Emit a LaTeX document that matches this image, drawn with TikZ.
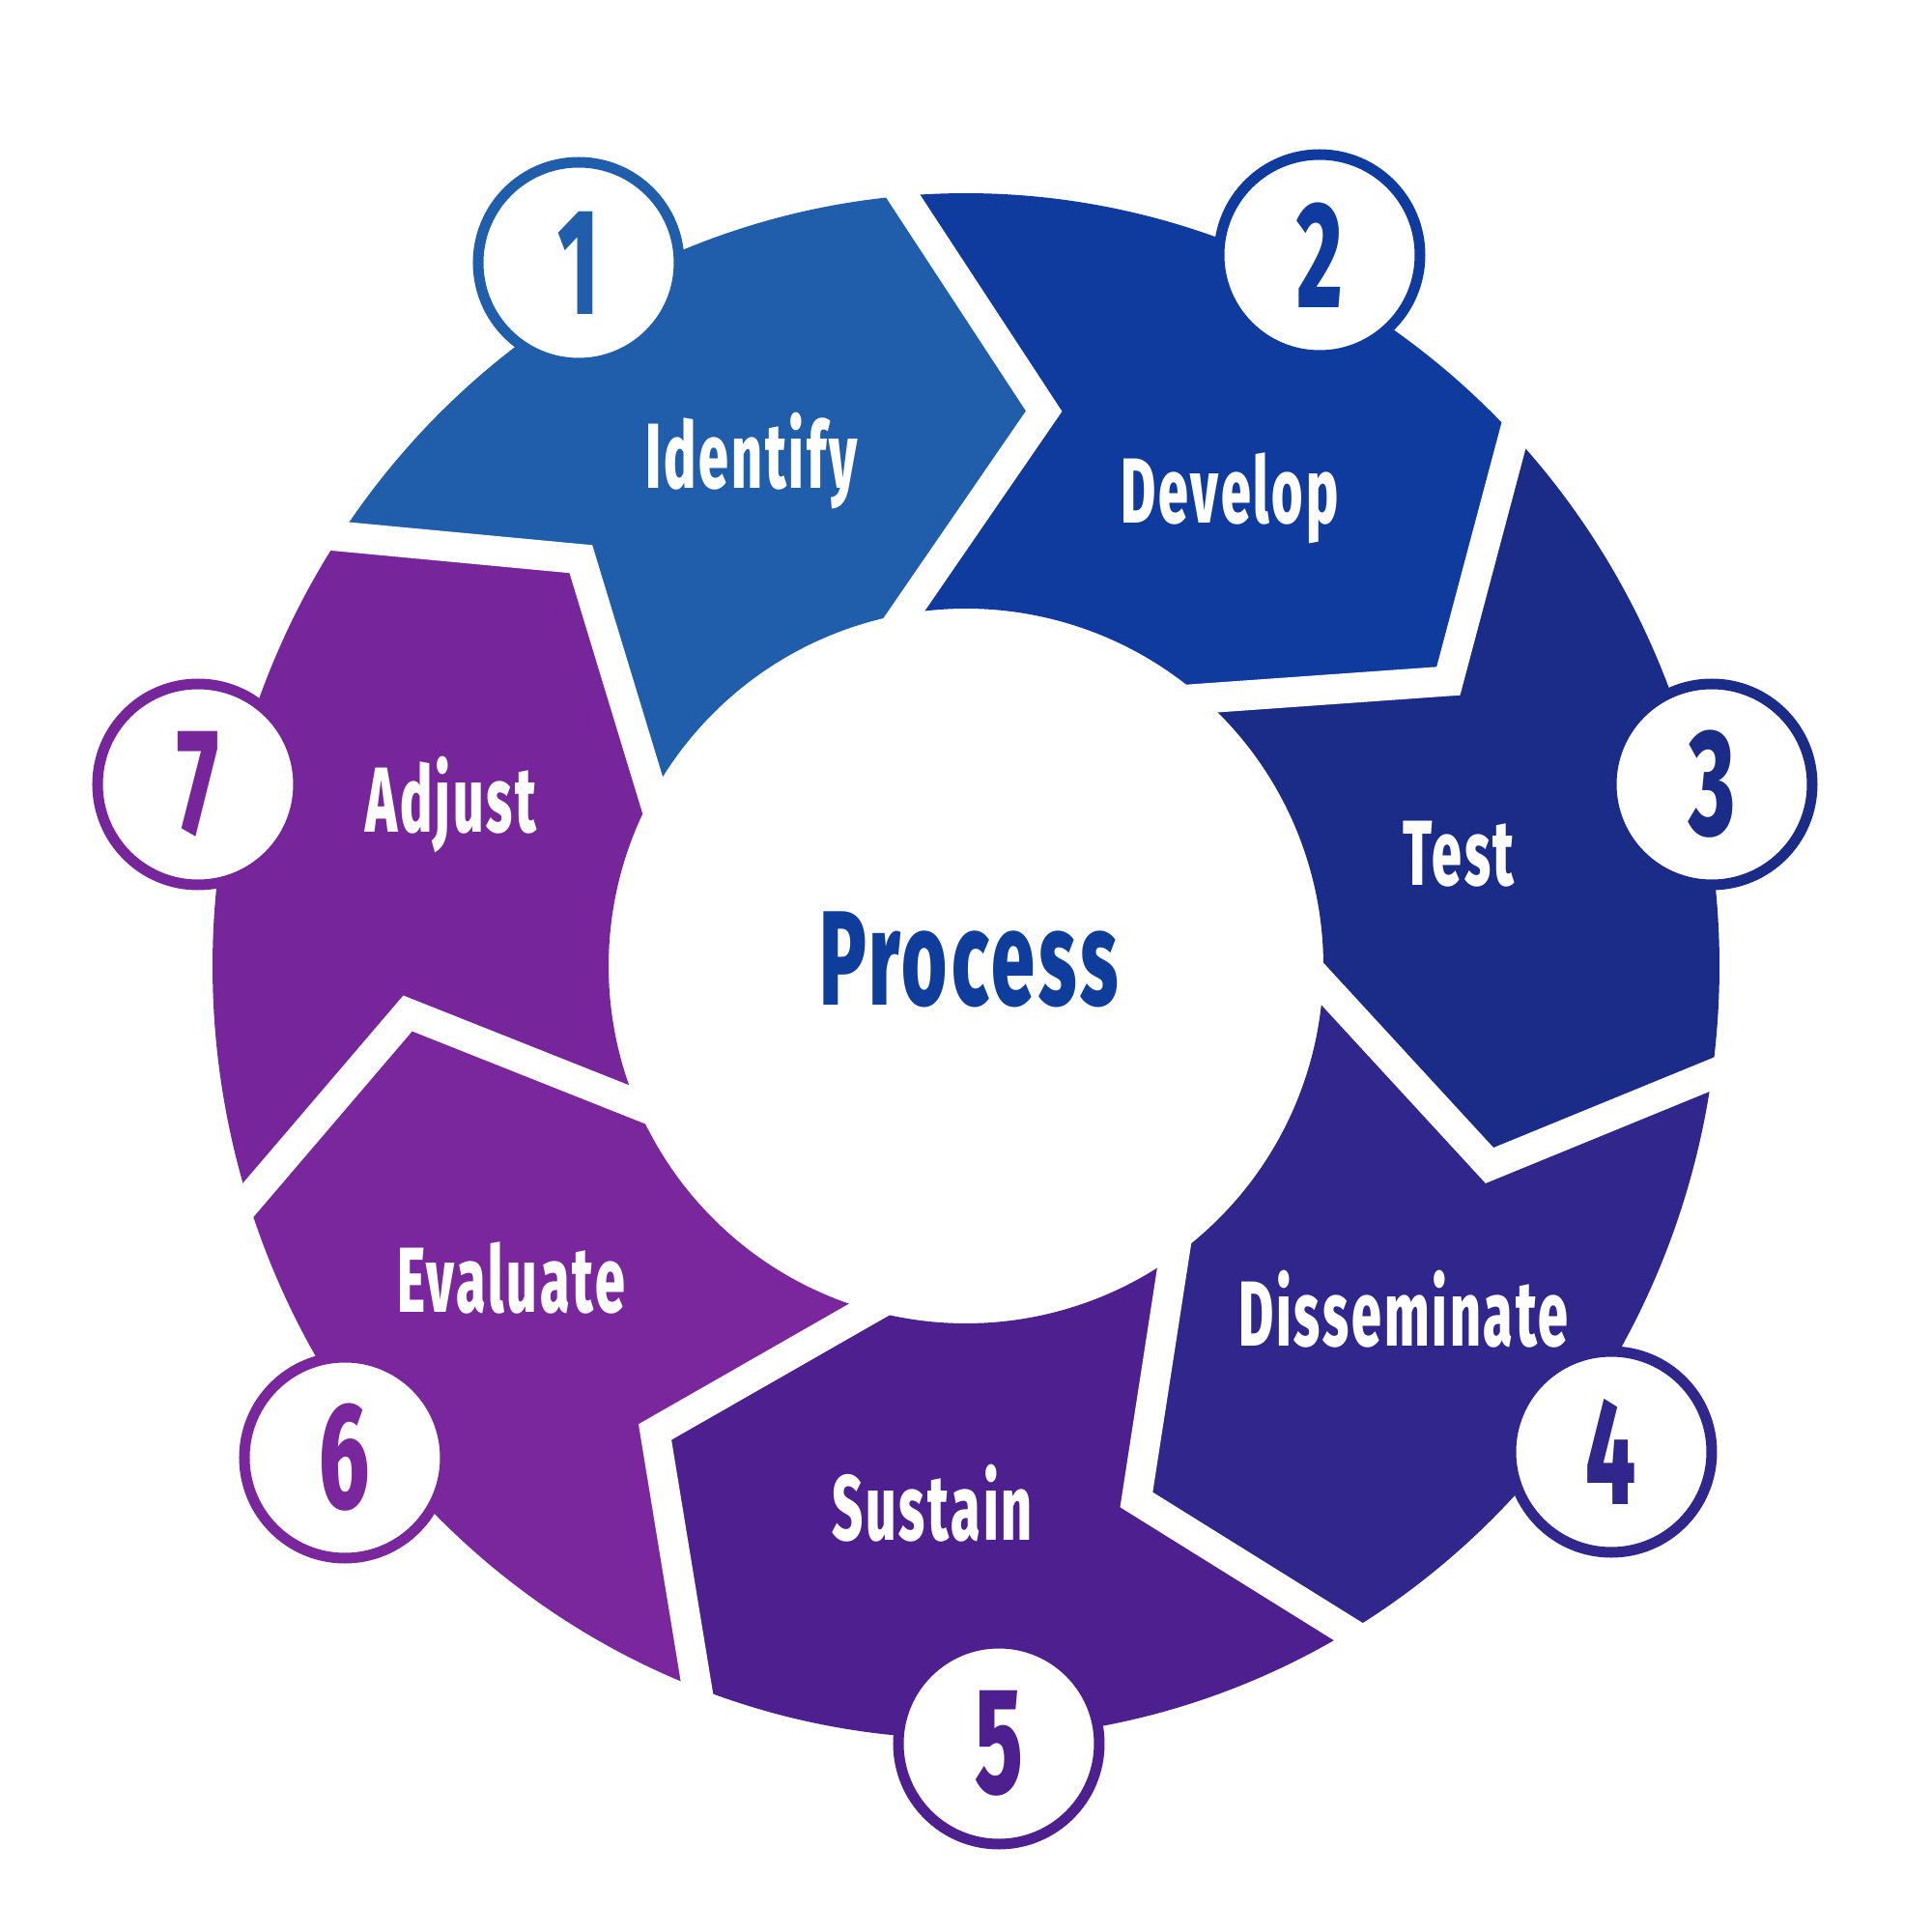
\documentclass[tikz,border=0pt]{standalone}
\usepackage{fontspec}
\setmainfont{Fira Sans}[FakeStretch=0.58, LetterSpace=3, BoldFont={Fira Sans ExtraBold}]
\usepackage{tikz}
\usetikzlibrary{calc}
\definecolor{segone}{HTML}{205EAC}
\definecolor{segtwo}{HTML}{0F3A9E}
\definecolor{segthree}{HTML}{1B2C88}
\definecolor{segfour}{HTML}{30268C}
\definecolor{segfive}{HTML}{4E1F8F}
\definecolor{segsix}{HTML}{7A269C}
\definecolor{segseven}{HTML}{77259A}
\definecolor{processblue}{HTML}{0E3D9C}

\begin{document}
\begin{tikzpicture}[
	numcircle/.style={circle, draw=#1, fill=white, line width=1.1mm, minimum size=2.08cm, inner sep=0pt, text=#1, font=\fontsize{44.6}{46}\selectfont\bfseries},
	steplabel/.style={anchor=base, inner sep=0pt, text=white, font=\fontsize{27.2}{29}\selectfont\bfseries},
	gapline/.style={white, line width=3.1mm, line join=miter, miter limit=20}
]
	\useasboundingbox (-10,-10) rectangle (10,10);
	\foreach \k/\col in {1/segone,2/segtwo,3/segthree,4/segfour,5/segfive,6/segsix,7/segseven}{
		\pgfmathsetmacro{\a}{94.8-51.43*(\k-2)}
		\pgfmathsetmacro{\b}{94.8-51.43*(\k-1)}
		\fill[\col] ({\a}:7.8 and 8) arc[start angle=\a, end angle=\b, x radius=7.8, y radius=8] -- ({\b-12.8}:5.8) -- ({\b+5.1}:3.7) arc[start angle=\b+5.1, end angle=\a+5.1, radius=3.7] -- ({\a-12.8}:5.8) -- cycle;
	}
	\foreach \k in {0,...,6}{
		\pgfmathsetmacro{\b}{94.8-51.43*\k}
		\coordinate (o\k) at ({\b}:7.8 and 8);
		\coordinate (t\k) at ({\b-12.8}:5.8);
		\coordinate (i\k) at ({\b+5.1}:3.7);
		\draw[gapline] ($(t\k)!1.15!(o\k)$) -- (t\k) -- ($(t\k)!1.2!(i\k)$);
	}
	\node[steplabel] (identify) at (-2.22,4.94) {Identify};
	\node[steplabel] (develop) at (2.73,4.58) {Develop};
	\node[steplabel] (test) at (5.10,0.83) {Test};
	\node[steplabel] (disseminate) at (4.53,-3.93) {Disseminate};
	\node[steplabel] (sustain) at (-0.35,-5.94) {Sustain};
	\node[steplabel] (evaluate) at (-4.71,-3.58) {Evaluate};
	\node[steplabel] (adjust) at (-5.33,1.38) {Adjust};
	\node[anchor=base, inner sep=0pt, text=processblue, font=\fontsize{39.6}{42}\selectfont\bfseries] (process) at (0.03,-0.40) {Process};
	\node[numcircle=segone] (n1) at (-4.01,7.28) {1};
	\node[numcircle=segtwo] (n2) at (3.66,7.36) {2};
	\node[numcircle=segthree] (n3) at (7.72,1.88) {3};
	\node[numcircle=segfour] (n4) at (6.68,-5.03) {4};
	\node[numcircle=segfive] (n5) at (0.34,-8.05) {5};
	\node[numcircle=segsix] (n6) at (-6.43,-5.09) {6};
	\node[numcircle=segseven] (n7) at (-7.95,1.88) {7};
\end{tikzpicture}
\end{document}
